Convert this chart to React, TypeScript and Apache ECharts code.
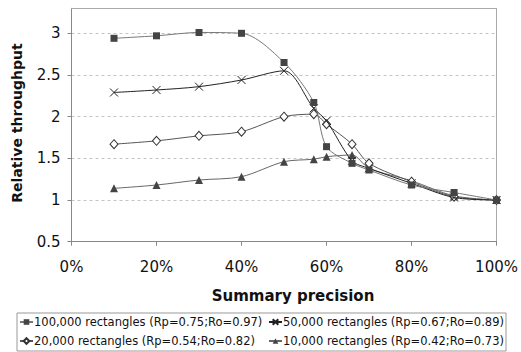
import React, { useEffect, useRef } from "react";
import * as echarts from "echarts";

const xPct = [10, 20, 30, 40, 50, 57, 60, 66, 70, 80, 90, 100];
const seriesNames = [
  "100,000 rectangles (Rp=0.75;Ro=0.97)",
  "50,000 rectangles (Rp=0.67;Ro=0.89)",
  "20,000 rectangles (Rp=0.54;Ro=0.82)",
  "10,000 rectangles (Rp=0.42;Ro=0.73)",
];
const s100k = [2.94, 2.97, 3.01, 3.0, 2.65, 2.17, 1.64, 1.44, 1.36, 1.18, 1.09, 1.0];
const s50k = [2.29, 2.32, 2.36, 2.44, 2.55, 2.1, 1.95, 1.47, 1.38, 1.2, 1.03, 1.0];
const s20k = [1.67, 1.71, 1.77, 1.82, 2.0, 2.03, 1.91, 1.67, 1.44, 1.22, 1.04, 1.0];
const s10k = [1.14, 1.18, 1.24, 1.28, 1.46, 1.49, 1.52, 1.54, 1.38, 1.23, 1.05, 1.0];
const yTicks = { min: 0.5, max: 3.3, interval: 0.5 };
const xTicks = { min: 0, max: 100, interval: 20 };

const FONT = "'DejaVu Sans', 'Liberation Sans', sans-serif";

function pairs(vals: number[]) {
  return xPct.map((x, i) => [x, vals[i]]);
}

export default function App() {
  const ref = useRef<HTMLDivElement>(null);
  useEffect(() => {
    if (!ref.current) return;
    const chart = echarts.init(ref.current, undefined, { renderer: "svg" });
    const crossPath = "path://M0,0L10,10M10,0L0,10";
    const smooth = 0.3;
    const legendPos = [
      { left: 19, top: 316 },
      { left: 268, top: 316 },
      { left: 19, top: 335 },
      { left: 268, top: 335 },
    ];
    const legends = seriesNames.map((n, i) => ({
      data: [n],
      orient: "horizontal",
      left: legendPos[i].left,
      top: legendPos[i].top,
      padding: 0,
      itemWidth: 13,
      itemHeight: 7,
      textStyle: { fontSize: 11.5, color: "#111", fontFamily: FONT, padding: [0, 0, 0, -4] },
    }));
    const option: any = {
      animation: false,
      backgroundColor: "#ffffff",
      textStyle: { fontFamily: FONT },
      grid: { left: 71.5, right: 20.3, top: 8.3, bottom: 352 - 241.7, containLabel: false },
      xAxis: [
        {
          type: "value",
          min: xTicks.min,
          max: xTicks.max,
          interval: xTicks.interval,
          axisLine: { show: true, lineStyle: { color: "#888", width: 1 } },
          axisTick: { show: true, length: 4, lineStyle: { color: "#888" } },
          axisLabel: { formatter: "{value}%", margin: 18, fontSize: 15, color: "#111", fontFamily: FONT },
          splitLine: { show: false },
        },
        {
          type: "value",
          position: "top",
          min: xTicks.min,
          max: xTicks.max,
          axisLine: { show: true, onZero: false, lineStyle: { color: "#aaa", width: 1 } },
          axisTick: { show: false },
          axisLabel: { show: false },
          splitLine: { show: false },
        },
      ],
      yAxis: [
        {
          type: "value",
          min: yTicks.min,
          max: yTicks.max,
          interval: yTicks.interval,
          axisLine: { show: true, lineStyle: { color: "#888", width: 1 } },
          axisTick: { show: true, length: 4, lineStyle: { color: "#888" } },
          axisLabel: { showMaxLabel: false, margin: 11, fontSize: 15, color: "#111", fontFamily: FONT },
          splitLine: { show: true, lineStyle: { color: "#c4c4c4", type: [3, 3], width: 1 } },
        },
        {
          type: "value",
          position: "right",
          min: yTicks.min,
          max: yTicks.max,
          axisLine: { show: true, onZero: false, lineStyle: { color: "#aaa", width: 1 } },
          axisTick: { show: false },
          axisLabel: { show: false },
          splitLine: { show: false },
        },
      ],
      legend: legends,
      graphic: [
        {
          type: "rect",
          shape: { x: 17, y: 313, width: 489, height: 38 },
          style: { fill: "none", stroke: "#999", lineWidth: 1 },
          z: 0,
        },
        {
          type: "text",
          x: 17,
          y: 123,
          rotation: Math.PI / 2,
          style: {
            text: "Relative throughput",
            font: "bold 14px 'DejaVu Sans'",
            fill: "#111",
            textAlign: "center",
            textVerticalAlign: "middle",
          },
        },
        {
          type: "text",
          x: 293,
          y: 296,
          style: {
            text: "Summary precision",
            font: "bold 15px 'DejaVu Sans'",
            fill: "#111",
            textAlign: "center",
            textVerticalAlign: "middle",
          },
        },
      ],
      series: [
        {
          name: seriesNames[0],
          type: "line",
          data: pairs(s100k),
          smooth,
          symbol: "rect",
          symbolSize: 7,
          lineStyle: { color: "#777", width: 1 },
          itemStyle: { color: "#444", borderColor: "#444", borderWidth: 0 },
          z: 4,
        },
        {
          name: seriesNames[1],
          type: "line",
          data: pairs(s50k),
          smooth,
          symbol: crossPath,
          symbolSize: 8,
          lineStyle: { color: "#222", width: 1 },
          itemStyle: { color: "none", borderColor: "#222", borderWidth: 1 },
          z: 3,
        },
        {
          name: seriesNames[2],
          type: "line",
          data: pairs(s20k),
          smooth,
          symbol: "diamond",
          symbolSize: [8, 9],
          lineStyle: { color: "#555", width: 1 },
          itemStyle: { color: "#fff", borderColor: "#333", borderWidth: 1 },
          z: 2,
        },
        {
          name: seriesNames[3],
          type: "line",
          data: pairs(s10k),
          smooth,
          symbol: "triangle",
          symbolSize: 8,
          lineStyle: { color: "#666", width: 1 },
          itemStyle: { color: "#444", borderColor: "#444", borderWidth: 0 },
          z: 1,
        },
      ],
    };
    chart.setOption(option);
    return () => chart.dispose();
  }, []);
  return <div ref={ref} style={{ width: 521, height: 352, position: "absolute", left: 0, top: 0 }} />;
}
